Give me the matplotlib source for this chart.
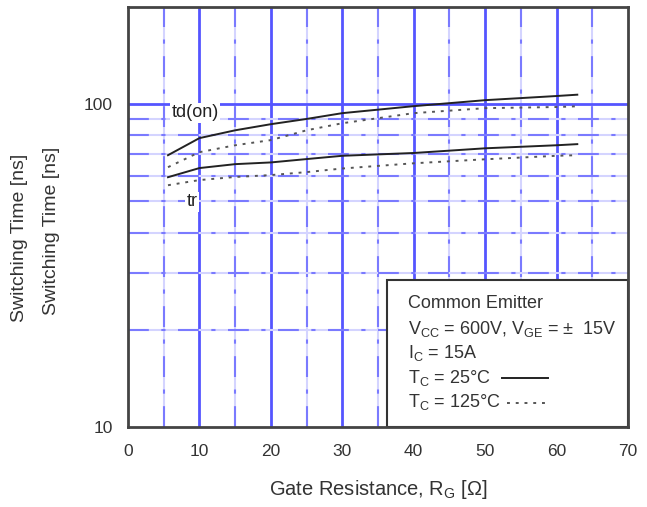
import matplotlib
matplotlib.use("Agg")
import matplotlib.pyplot as plt
from matplotlib.patches import Rectangle

plt.rcParams['font.family'] = ['Liberation Sans', 'DejaVu Sans']
plt.rcParams['mathtext.fontset'] = 'custom'
plt.rcParams['mathtext.rm'] = 'Liberation Sans'
plt.rcParams['mathtext.it'] = 'Liberation Sans'
plt.rcParams['mathtext.default'] = 'regular'

# Data
rg = [5.6, 10, 15, 20, 25, 30, 40, 50, 60, 62.9]
td_on_25 = [69.5, 78.5, 83.0, 86.7, 90.0, 93.8, 98.6, 102.9, 106.0, 107.0]
td_on_125 = [63.8, 71.0, 74.6, 77.4, 83.0, 87.3, 93.8, 97.2, 98.0, 98.5]
tr_25 = [59.4, 63.4, 65.2, 66.0, 67.6, 69.2, 70.6, 73.0, 74.6, 75.2]
tr_125 = [56.1, 58.2, 59.5, 60.3, 61.6, 63.2, 65.6, 67.5, 69.2, 69.5]

x_ticks = [0, 10, 20, 30, 40, 50, 60, 70]
y_ticks = [10, 100]
y_tick_labels = ['10', '100']

fig = plt.figure(figsize=(6.47, 5.07), dpi=100)
ax = fig.add_axes([128/647, (507-427)/507, 500/647, 420/507])
ax.set_yscale('log')
ax.set_xlim(0, 70)
ax.set_ylim(10, 200)

major_blue = '#5555ff'
minor_blue = '#7a7aff'
light_blue = '#d4d4ff'
# vertical grid
for xv in [10, 20, 30, 40, 50, 60]:
    ax.axvline(xv, color=major_blue, lw=2.0, zorder=1)
for xv in [5, 15, 25, 35, 45, 55, 65]:
    ax.axvline(xv, color=light_blue, lw=1.5, zorder=1)
    ax.axvline(xv, color=minor_blue, lw=1.5, dashes=(10, 6, 2, 6), zorder=1)
# horizontal grid
ax.axhline(100, color=major_blue, lw=2.0, zorder=1)
for yv in [20, 30, 40, 50, 60, 70, 80, 90]:
    ax.axhline(yv, color=light_blue, lw=1.5, zorder=1)
    ax.axhline(yv, color=minor_blue, lw=1.5, dashes=(10, 6, 2, 6), zorder=1)

ax.plot(rg, td_on_25, color='#222222', lw=1.4, zorder=3)
ax.plot(rg, td_on_125, color='#555555', lw=1.4, ls=(0, (1.5, 3)), zorder=3)
ax.plot(rg, tr_25, color='#222222', lw=1.4, zorder=3)
ax.plot(rg, tr_125, color='#555555', lw=1.4, ls=(0, (1.5, 3)), zorder=3)

bb = dict(facecolor='white', edgecolor='none', pad=1)
ax.text(9.4, 94, 'td(on)', fontsize=13, color='#222222', ha='center', va='center', bbox=bb, zorder=4)
ax.text(9.0, 49.8, 'tr', fontsize=13, color='#222222', ha='center', va='center', bbox=bb, zorder=4)

ax.set_xticks(x_ticks)
ax.set_xticklabels([str(v) for v in x_ticks])
ax.set_yticks(y_ticks)
ax.set_yticklabels(y_tick_labels)
ax.yaxis.set_minor_locator(matplotlib.ticker.NullLocator())
ax.tick_params(length=0, labelsize=12.5, colors='#333333')
ax.tick_params(axis='x', pad=12)
ax.tick_params(axis='y', pad=11)
for s in ax.spines.values():
    s.set_color('#444444')
    s.set_linewidth(2)
    s.set_zorder(6)

# legend box
ax.add_patch(Rectangle((0.518, 0.0), 0.482, 0.35, transform=ax.transAxes,
                       facecolor='white', edgecolor='#333333', lw=1.5, zorder=5, clip_on=False))
lx = 0.56
fs = 13
tc = '#333333'
ax.text(lx, 0.295, 'Common Emitter', transform=ax.transAxes, fontsize=fs, color=tc, va='center', zorder=6)
ax.text(lx, 0.233, r'V$_{CC}$ = 600V, V$_{GE}$ = $\pm$  15V', transform=ax.transAxes, fontsize=fs, color=tc, va='center', zorder=6)
ax.text(lx, 0.176, r'I$_{C}$ = 15A', transform=ax.transAxes, fontsize=fs, color=tc, va='center', zorder=6)
ax.text(lx, 0.117, r'T$_{C}$ = 25°C', transform=ax.transAxes, fontsize=fs, color=tc, va='center', zorder=6)
ax.text(lx, 0.060, r'T$_{C}$ = 125°C', transform=ax.transAxes, fontsize=fs, color=tc, va='center', zorder=6)
ax.plot([0.748, 0.840], [0.117, 0.117], transform=ax.transAxes, color='#222222', lw=1.4, zorder=6, clip_on=False)
ax.plot([0.758, 0.835], [0.058, 0.058], transform=ax.transAxes, color='#555555', lw=1.4, ls=(0, (1.5, 3)), zorder=6, clip_on=False)

ax.set_xlabel(r'Gate Resistance, R$_{G}$ [Ω]', fontsize=14.5, color='#333333', labelpad=14)

fig.text(20/647, (507-238)/507, 'Switching Time [ns]', rotation=90, fontsize=14, color='#333333', ha='center', va='center')
fig.text(52/647, (507-231)/507, 'Switching Time [ns]', rotation=90, fontsize=14, color='#333333', ha='center', va='center')

fig.savefig('out.png', dpi=100)
